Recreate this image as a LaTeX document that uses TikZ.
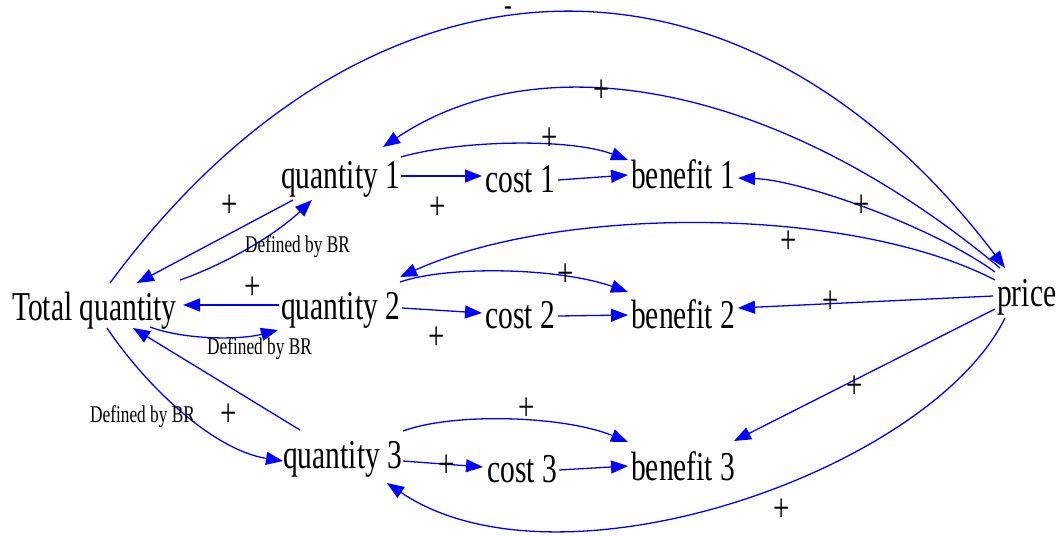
\documentclass[tikz,border=0pt]{standalone}
\usepackage{fontspec}
\newfontfamily\vf[FakeStretch=0.72]{Liberation Serif}
\usetikzlibrary{arrows.meta,calc}
\definecolor{lk}{RGB}{0,0,255}
\begin{document}
\begin{tikzpicture}[x=1pt,y=-1pt,
  var/.style={inner sep=0pt,anchor=base west,font=\vf\fontsize{41}{45}\selectfont},
  pol/.style={inner sep=0pt,font=\vf\fontsize{40}{42}\selectfont},
  note/.style={inner sep=0pt,anchor=base west,font=\vf\fontsize{24}{26}\selectfont},
  link/.style={draw=lk,line width=1.3pt,-{Triangle[length=17pt,width=13pt]}}]
\useasboundingbox (0,0) rectangle (1064,535);
% variables
\node[var] (tq) at (12,320) {Total quantity};
\node[var] (q1) at (281,188) {quantity 1};
\node[var] (q2) at (281,319) {quantity 2};
\node[var] (q3) at (283,468) {quantity 3};
\node[var] (c1) at (485,192) {cost 1};
\node[var] (c2) at (485,328) {cost 2};
\node[var] (c3) at (487,482) {cost 3};
\node[var] (b1) at (631,188) {benefit 1};
\node[var] (b2) at (631,328) {benefit 2};
\node[var] (b3) at (631,480) {benefit 3};
\node[var] (pr) at (997,306) {price};
% connectors
\draw[link] ($(tq.base west)+(98,-37)$) .. controls (370,-69) and (741,-80) .. ($(pr.base west)+(8,-38)$);
\draw[link] ($(pr.base west)+(3,-38)$) .. controls (777,82) and (541,41) .. ($(q1.base west)+(102,-41)$);
\draw[link] ($(pr.base west)+(-2,-34)$) .. controls (930,225) and (800,180) .. ($(b1.base west)+(107,-10)$);
\draw[link] ($(pr.base west)+(-2,-26)$) .. controls (850,205) and (560,205) .. ($(q2.base west)+(119,-42)$);
\draw[link] ($(pr.base west)+(-4,-10)$) -- ($(b2.base west)+(107,-20)$);
\draw[link] ($(pr.base west)+(-2,3)$) -- ($(b3.base west)+(103,-39)$);
\draw[link] ($(pr.base west)+(8,12)$) .. controls (930,470) and (560,600) .. ($(q3.base west)+(104,15)$);
\draw[link] ($(q1.base west)+(120,-31)$) .. controls (460,140) and (570,138) .. ($(b1.base west)+(-3,-28)$);
\draw[link] ($(q1.base west)+(120,-12)$) -- ($(c1.base west)+(-3,-16)$);
\draw[link] ($(c1.base west)+(73,-12)$) -- ($(b1.base west)+(-3,-13)$);
\draw[link] ($(q2.base west)+(119,-37)$) .. controls (450,265) and (560,268) .. ($(b2.base west)+(-3,-36)$);
\draw[link] ($(q2.base west)+(121,-11)$) -- ($(c2.base west)+(-3,-15)$);
\draw[link] ($(c2.base west)+(73,-12)$) -- ($(b2.base west)+(-3,-13)$);
\draw[link] ($(q3.base west)+(120,-37)$) .. controls (455,412) and (565,416) .. ($(b3.base west)+(-3,-38)$);
\draw[link] ($(q3.base west)+(120,-7)$) -- ($(c3.base west)+(-4,-15)$);
\draw[link] ($(c3.base west)+(72,-12)$) -- ($(b3.base west)+(-3,-14)$);
\draw[link] ($(q1.base west)+(12,12)$) -- ($(tq.base west)+(125,-37)$);
\draw[link] ($(tq.base west)+(168,-40)$) .. controls (215,268) and (270,240) .. ($(q1.base west)+(31,12)$);
\draw[link] ($(q2.base west)+(-2,-14)$) -- ($(tq.base west)+(171,-15)$);
\draw[link] ($(tq.base west)+(138,7)$) .. controls (185,340) and (240,340) .. ($(q2.base west)+(-3,11)$);
\draw[link] ($(q3.base west)+(17,-38)$) -- ($(tq.base west)+(121,8)$);
\draw[link] ($(tq.base west)+(95,8)$) .. controls (146,386) and (213,450) .. ($(q3.base west)+(0,-7)$);
% link labels
\node[note] (d1) at (245,252) {Defined by BR};
\node[note] (d2) at (207,354) {Defined by BR};
\node[note] (d3) at (90,422) {Defined by BR};
\node[pol] (s1) at (230,206) {+};
\node[pol] (s2) at (253,288) {+};
\node[pol] (s3) at (229,415) {+};
\node[pol] (s4) at (438,208) {+};
\node[pol] (s5) at (550,139) {+};
\node[pol] (s6) at (602,91) {+};
\node[pol] (s7) at (862,206) {+};
\node[pol] (s8) at (789,242) {+};
\node[pol] (s9) at (566,275) {+};
\node[pol] (s10) at (831,302) {+};
\node[pol] (s11) at (437,338) {+};
\node[pol] (s12) at (527,409) {+};
\node[pol] (s13) at (447,466) {+};
\node[pol] (s14) at (855,387) {+};
\node[pol] (s15) at (782,510) {+};
\node[pol,font=\vf\fontsize{32}{34}\selectfont,anchor=base] (s16) at (508,16) {-};
\end{tikzpicture}
\end{document}
